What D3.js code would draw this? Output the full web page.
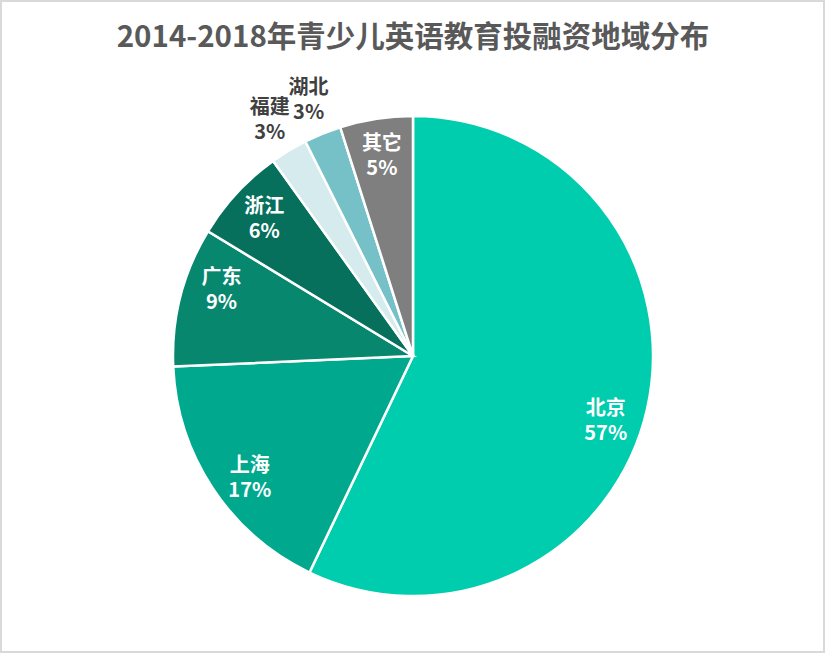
<!DOCTYPE html>
<html><head><meta charset="utf-8">
<script src="https://cdn.jsdelivr.net/npm/d3@7"></script>
<style>body{margin:0;background:#fff}svg{display:block}</style>
</head><body>
<script>
const categories = ["北京","上海","广东","浙江","福建","湖北","其它"];
const values = [57.1, 17.2, 9.4, 6.4, 2.5, 2.5, 4.9];
const colors = ["#00CCAE","#00A98D","#08876F","#06705C","#D6EBED","#75C1C7","#7F7F7F"];
const outside = [false,false,false,false,true,true,false];
const labelShiftDeg = [5.5,-3,5,0,0,0,0];

const W=825,H=653, cx=413, cy=356, R=240;
const svg=d3.select("body").append("svg").attr("width",W).attr("height",H);
svg.append("rect").attr("x",1).attr("y",1).attr("width",W-2).attr("height",H-2)
  .attr("fill","#fff").attr("stroke","#d9d9d9").attr("stroke-width",2);
svg.append("text").attr("x",413).attr("y",47).attr("text-anchor","middle")
  .attr("font-family","'Noto Sans CJK SC','Noto Sans',sans-serif").attr("font-weight","bold")
  .attr("font-size",29.5).attr("fill","#595959").text("2014-2018年青少儿英语教育投融资地域分布");

const data=categories.map((c,i)=>({c,v:values[i],i}));
const pie=d3.pie().value(d=>d.v).sort(null);
const arcs=pie(data);
const arc=d3.arc().innerRadius(0).outerRadius(R);
const g=svg.append("g").attr("transform",`translate(${cx},${cy})`);
g.selectAll("path").data(arcs).join("path").attr("d",arc)
  .attr("fill",d=>colors[d.data.i]).attr("stroke","#fff").attr("stroke-width",2.5);

const total=d3.sum(values);
arcs.forEach(d=>{
  const i=d.data.i;
  const a=(d.startAngle+d.endAngle)/2+labelShiftDeg[i]*Math.PI/180;
  const r=outside[i]?277:203;
  const x=r*Math.sin(a), y=-r*Math.cos(a);
  const t=g.append("text").attr("text-anchor","middle")
    .attr("font-family","'Noto Sans CJK SC','Noto Sans',sans-serif").attr("font-weight","bold")
    .attr("font-size",20).attr("fill",outside[i]?"#404040":"#fff");
  t.append("tspan").attr("x",x).attr("y",y-5).text(d.data.c);
  t.append("tspan").attr("x",x).attr("y",y+20).text(Math.round(d.data.v/total*100)+"%");
});
</script>
</body></html>
